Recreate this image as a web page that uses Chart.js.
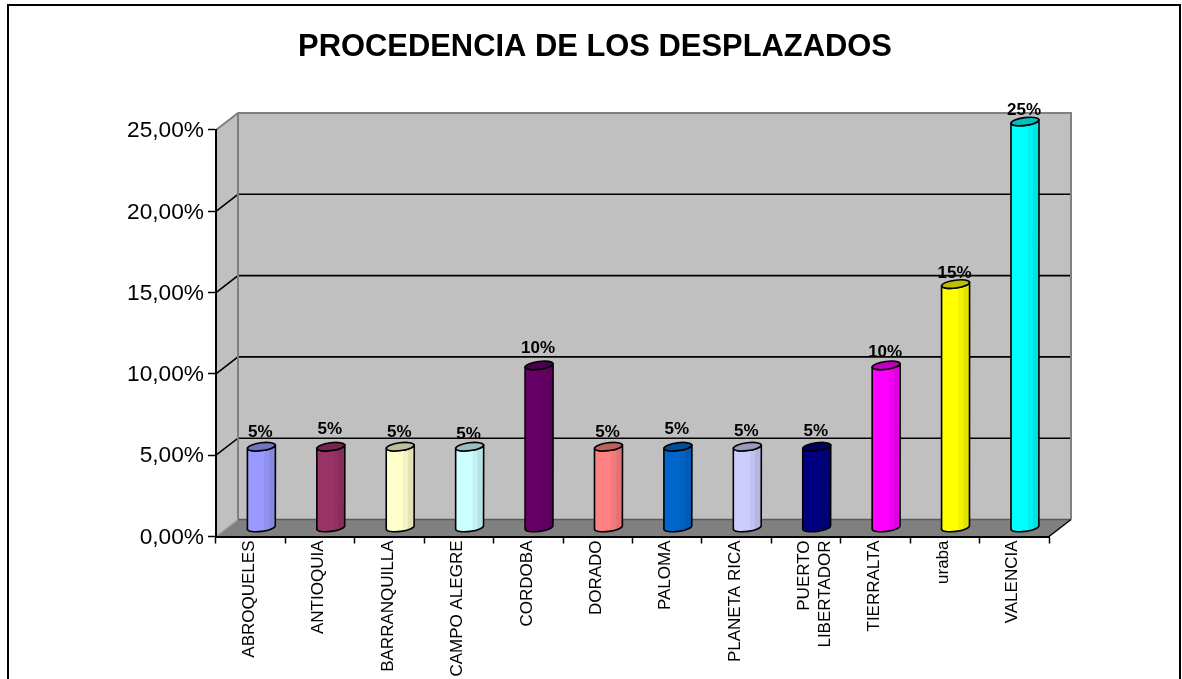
<!DOCTYPE html>
<html><head><meta charset="utf-8">
<style>html,body{margin:0;padding:0;background:#fff}canvas{display:block}</style>
<script src="https://cdn.jsdelivr.net/npm/chart.js@4"></script>
</head><body><canvas id="c" width="1182" height="679"></canvas>
<script>
const titleText = 'PROCEDENCIA DE LOS DESPLAZADOS';
const categories = ['ABROQUELES','ANTIOQUIA','BARRANQUILLA','CAMPO ALEGRE','CORDOBA','DORADO','PALOMA','PLANETA RICA',['PUERTO','LIBERTADOR'],'TIERRALTA','uraba','VALENCIA'];
const values = [5,5,5,5,10,5,5,5,5,10,15,25];
const dataLabels = ['5%','5%','5%','5%','10%','5%','5%','5%','5%','10%','15%','25%'];
const labelLift = [14,17,14,12,17,14,17,15,15,13,11,11];
const colors = ['#9999FF','#993366','#FFFFCC','#CCFFFF','#660066','#FF8080','#0066CC','#CCCCFF','#000080','#FF00FF','#FFFF00','#00FFFF'];

const DEPTH_X = 22, DEPTH_Y = 17, MID_X = 10.7, MID_Y = 8.5;
const FONT = '"Liberation Sans", Arial, sans-serif';

function shade(hex, f){
  const n = parseInt(hex.slice(1),16);
  return 'rgb(' + [(n>>16)&255,(n>>8)&255,n&255].map(v=>Math.round(v*f)).join(',') + ')';
}

// Each bar element is drawn as a small cylinder at mid depth of the 3D box.
Chart.BarElement.prototype.draw = function(ctx){
  const col = this.options.backgroundColor;
  const cx = this.x + MID_X, top = this.y - MID_Y, base = this.base - MID_Y;
  const rx = this.width/2, ry = 3.9, tilt = -0.13, sl = 1.8;
  const L = cx-rx, R = cx+rx;
  ctx.save();
  const bodyPath = () => {
    ctx.beginPath();
    ctx.moveTo(L, top+sl);
    ctx.lineTo(L, base+sl);
    ctx.ellipse(cx, base, rx, ry, tilt, Math.PI, 0, true);
    ctx.lineTo(R, top-sl);
    ctx.ellipse(cx, top, rx, ry, tilt, 0, Math.PI, false);
    ctx.closePath();
  };
  bodyPath();
  ctx.save();
  ctx.clip();
  ctx.fillStyle = col; ctx.fillRect(L, top-10, rx*2, base-top+20);
  ctx.fillStyle = shade(col,.95); ctx.fillRect(L+rx*2*.6, top-10, rx*2*.4, base-top+20);
  ctx.fillStyle = shade(col,.89); ctx.fillRect(L+rx*2*.78, top-10, rx*2*.22, base-top+20);
  ctx.restore();
  ctx.lineWidth = 1.6; ctx.strokeStyle = '#000';
  bodyPath(); ctx.stroke();
  ctx.beginPath();
  ctx.ellipse(cx, top, rx, ry, tilt, 0, Math.PI*2);
  ctx.fillStyle = shade(col,.75); ctx.fill(); ctx.stroke();
  ctx.restore();
};

const box3d = {
  id:'box3d',
  beforeDraw(chart){
    const ctx = chart.ctx, x = chart.scales.x, y = chart.scales.y;
    ctx.save();
    ctx.fillStyle = '#fff'; ctx.fillRect(0,0,chart.width,chart.height);
    ctx.strokeStyle = '#000'; ctx.lineWidth = 2;
    ctx.beginPath(); ctx.moveTo(8,690); ctx.lineTo(8,5); ctx.lineTo(1180,5); ctx.lineTo(1180,690); ctx.stroke();
    const l = x.left, r = x.right, t = y.getPixelForValue(25), b = y.getPixelForValue(0);
    // walls
    ctx.fillStyle = '#C0C0C0';
    ctx.beginPath();
    ctx.moveTo(l,b); ctx.lineTo(l,t); ctx.lineTo(l+DEPTH_X,t-DEPTH_Y); ctx.lineTo(r+DEPTH_X,t-DEPTH_Y);
    ctx.lineTo(r+DEPTH_X,b-DEPTH_Y); ctx.lineTo(l+DEPTH_X,b-DEPTH_Y); ctx.closePath(); ctx.fill();
    // floor
    ctx.fillStyle = '#808080';
    ctx.beginPath();
    ctx.moveTo(l,b); ctx.lineTo(l+DEPTH_X,b-DEPTH_Y); ctx.lineTo(r+DEPTH_X,b-DEPTH_Y); ctx.lineTo(r,b); ctx.closePath(); ctx.fill();
    // gridlines on side and back wall
    ctx.strokeStyle = '#000'; ctx.lineWidth = 1.6;
    y.ticks.forEach(tk=>{
      if(tk.value<=0||tk.value>=25) return;
      const p = y.getPixelForValue(tk.value);
      ctx.beginPath(); ctx.moveTo(l,p); ctx.lineTo(l+DEPTH_X,p-DEPTH_Y); ctx.lineTo(r+DEPTH_X,p-DEPTH_Y); ctx.stroke();
    });
    // wall outline
    ctx.strokeStyle = '#808080'; ctx.lineWidth = 2;
    ctx.beginPath();
    ctx.moveTo(l,t); ctx.lineTo(l+DEPTH_X,t-DEPTH_Y); ctx.lineTo(r+DEPTH_X,t-DEPTH_Y); ctx.lineTo(r+DEPTH_X,b-DEPTH_Y);
    ctx.moveTo(l+DEPTH_X,t-DEPTH_Y); ctx.lineTo(l+DEPTH_X,b-DEPTH_Y);
    ctx.stroke();
    ctx.strokeStyle = '#5a5a5a'; ctx.lineWidth = 1.5;
    ctx.beginPath(); ctx.moveTo(l+DEPTH_X,b-DEPTH_Y); ctx.lineTo(r+DEPTH_X,b-DEPTH_Y); ctx.stroke();
    ctx.strokeStyle = '#000';
    ctx.beginPath(); ctx.moveTo(r,b); ctx.lineTo(r+DEPTH_X,b-DEPTH_Y); ctx.stroke();
    ctx.strokeStyle = '#a0a0a0';
    ctx.beginPath(); ctx.moveTo(l,b); ctx.lineTo(l+DEPTH_X,b-DEPTH_Y); ctx.stroke();
    ctx.restore();
  },
  afterDatasetsDraw(chart){
    const ctx = chart.ctx;
    ctx.save();
    ctx.font = 'bold 17px '+FONT; ctx.fillStyle = '#000';
    ctx.textAlign = 'center'; ctx.textBaseline = 'middle';
    chart.getDatasetMeta(0).data.forEach((el,i)=>{
      ctx.fillText(dataLabels[i], el.x + MID_X - 1, el.y - MID_Y - labelLift[i]);
    });
    ctx.restore();
  }
};

new Chart(document.getElementById('c'),{
  type:'bar',
  data:{labels:categories,datasets:[{data:values,backgroundColor:colors,barThickness:28,clip:false,yAxisID:'y'}]},
  plugins:[box3d],
  options:{
    responsive:false,animation:false,
    layout:{padding:{left:8,right:0,top:0,bottom:0}},
    plugins:{
      legend:{display:false},tooltip:{enabled:false},
      title:{display:true,text:titleText,color:'#000',
        font:{family:FONT,size:30.9,weight:'bold',lineHeight:1.2},
        padding:{top:29,bottom:63.9}}
    },
    scales:{
      x:{
        afterFit(s){s.height=142.5;},
        grid:{display:true,drawOnChartArea:false,offset:true,tickLength:7,tickColor:'#000',tickWidth:1.5},
        border:{display:true,color:'#000',width:2},
        ticks:{autoSkip:false,minRotation:90,maxRotation:90,padding:-3,labelOffset:-1.5,color:'#000',font:{family:FONT,size:17}}
      },
      y:{
        min:0,max:25,
        afterFit(s){s.width=208;},
        grid:{display:true,drawOnChartArea:false,tickLength:8,tickColor:'#000',tickWidth:1.5},
        border:{display:true,color:'#000',width:2},
        ticks:{stepSize:5,padding:4,labelOffset:1,color:'#000',font:{family:FONT,size:22.7},
          callback:v=>v.toFixed(2).replace('.',',')+'%'}
      },
      spacer:{
        position:'right',display:true,
        afterFit(s){s.width=133;},
        grid:{display:false},border:{display:false},ticks:{display:false}
      }
    }
  }
});
</script></body></html>
